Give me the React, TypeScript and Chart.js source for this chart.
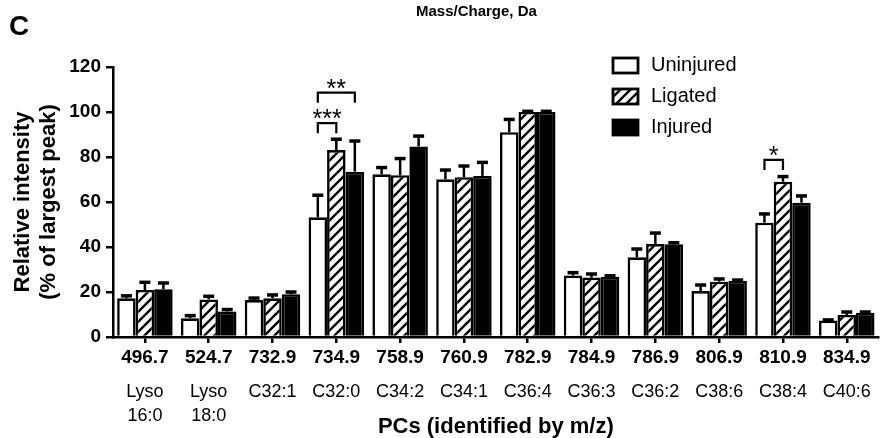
import React, { useEffect, useRef } from "react";
import { Chart, registerables } from "chart.js";

Chart.register(...registerables);

const categories = ["496.7", "524.7", "732.9", "734.9", "758.9", "760.9", "782.9", "784.9", "786.9", "806.9", "810.9", "834.9"];
const lipidNames: (string | string[])[] = [["Lyso", "16:0"], ["Lyso", "18:0"], "C32:1", "C32:0", "C34:2", "C34:1", "C36:4", "C36:3", "C36:2", "C38:6", "C38:4", "C40:6"];
const seriesNames = ["Uninjured", "Ligated", "Injured"];

const uninjured = [17.2, 8.3, 16.4, 53.2, 72.3, 70.1, 91.0, 27.3, 35.4, 20.4, 50.8, 7.3];
const uninjuredErr = [1.1, 1.2, 0.9, 9.8, 3.0, 4.1, 5.7, 1.3, 3.7, 2.7, 3.9, 0.3];
const ligated = [20.9, 16.7, 17.2, 83.1, 71.9, 71.0, 100.0, 26.4, 41.3, 24.6, 69.0, 9.8];
const ligatedErr = [3.4, 1.4, 1.5, 4.8, 7.4, 5.0, 0.3, 1.6, 4.9, 1.2, 2.3, 1.3];
const injured = [21.2, 11.3, 19.0, 73.5, 84.7, 71.6, 100.0, 26.8, 41.2, 25.0, 59.7, 10.8];
const injuredErr = [2.8, 0.9, 1.0, 13.6, 4.6, 6.0, 0.3, 0.4, 0.7, 0.3, 3.0, 0.3];

const yTicks = [0, 20, 40, 60, 80, 100, 120];

// significance brackets: category index, from series, to series, bracket level (value), label
const sigCategory = [3, 3, 10];
const sigFrom = [0, 0, 0];
const sigTo = [1, 2, 1];
const sigLevel = [95.1, 108.6, 78.7];
const sigLabel = ["***", "**", "*"];

const FONT = "'Liberation Sans', Arial, Helvetica, sans-serif";

function makeHatch(): CanvasPattern | string {
  const size = 10;
  const c = document.createElement("canvas");
  c.width = size;
  c.height = size;
  const g = c.getContext("2d");
  if (!g) return "#fff";
  g.fillStyle = "#fff";
  g.fillRect(0, 0, size, size);
  g.strokeStyle = "#000";
  g.lineWidth = 2.4;
  g.beginPath();
  g.moveTo(-2, size + 2);
  g.lineTo(size + 2, -2);
  g.moveTo(-2, 2);
  g.lineTo(2, -2);
  g.moveTo(size - 2, size + 2);
  g.lineTo(size + 2, size - 2);
  g.stroke();
  const p = g.createPattern(c, "repeat");
  return p || "#fff";
}

export default function App() {
  const ref = useRef<HTMLCanvasElement | null>(null);

  useEffect(() => {
    if (!ref.current) return;
    const hatch = makeHatch();
    const fills: any[] = ["#ffffff", hatch, "#000000"];
    const values = [uninjured, ligated, injured];
    const errors = [uninjuredErr, ligatedErr, injuredErr];

    const annotPlugin = {
      id: "annot",
      afterDatasetsDraw(chart: any) {
        const ctx = chart.ctx as CanvasRenderingContext2D;
        const y = chart.scales.y;
        ctx.save();
        ctx.strokeStyle = "#000";
        ctx.lineCap = "butt";
        // error bars (upper only)
        values.forEach((vals, di) => {
          const meta = chart.getDatasetMeta(di);
          meta.data.forEach((bar: any, i: number) => {
            const top = y.getPixelForValue(vals[i]);
            const et = y.getPixelForValue(vals[i] + errors[di][i]);
            ctx.lineWidth = 2.5;
            ctx.beginPath();
            ctx.moveTo(bar.x, top);
            ctx.lineTo(bar.x, et);
            ctx.stroke();
            ctx.lineWidth = 3.5;
            ctx.beginPath();
            ctx.moveTo(bar.x - 5.5, et);
            ctx.lineTo(bar.x + 5.5, et);
            ctx.stroke();
          });
        });
        // significance brackets
        sigCategory.forEach((ci, k) => {
          const b1 = chart.getDatasetMeta(sigFrom[k]).data[ci];
          const b2 = chart.getDatasetMeta(sigTo[k]).data[ci];
          const yy = y.getPixelForValue(sigLevel[k]);
          const legEnd = y.getPixelForValue(sigLevel[k] - 4.5);
          ctx.lineWidth = 2.2;
          ctx.beginPath();
          ctx.moveTo(b1.x, legEnd);
          ctx.lineTo(b1.x, yy);
          ctx.lineTo(b2.x, yy);
          ctx.lineTo(b2.x, legEnd);
          ctx.stroke();
          ctx.fillStyle = "#000";
          ctx.font = `25px ${FONT}`;
          ctx.textAlign = "center";
          ctx.textBaseline = "alphabetic";
          ctx.fillText(sigLabel[k], (b1.x + b2.x) / 2, yy + 4);
        });
        ctx.restore();
      },
      afterDraw(chart: any) {
        const ctx = chart.ctx as CanvasRenderingContext2D;
        ctx.save();
        // panel letter
        ctx.fillStyle = "#000";
        ctx.font = `bold 28px ${FONT}`;
        ctx.textAlign = "left";
        ctx.textBaseline = "alphabetic";
        ctx.fillText("C", 9, 35);
        // top title
        ctx.font = `bold 15px ${FONT}`;
        ctx.fillText("Mass/Charge, Da", 416, 16);
        // legend
        const boxX = 613;
        const rows = [65.5, 96.5, 127.5];
        seriesNames.forEach((name, i) => {
          const cy = rows[i];
          ctx.fillStyle = fills[i];
          ctx.fillRect(boxX, cy - 7.5, 25, 15);
          ctx.strokeStyle = "#000";
          ctx.lineWidth = 2.8;
          ctx.strokeRect(boxX, cy - 7.5, 25, 15);
          ctx.fillStyle = "#000";
          ctx.font = `20px ${FONT}`;
          ctx.textAlign = "left";
          ctx.textBaseline = "middle";
          ctx.fillText(name, 651, cy);
        });
        ctx.restore();
      },
    };

    const chart = new Chart(ref.current, {
      type: "bar",
      data: {
        labels: categories,
        datasets: seriesNames.map((name, i) => ({
          label: name,
          data: values[i],
          backgroundColor: fills[i],
          borderColor: "#000",
          borderWidth: 2.6,
          categoryPercentage: 0.87,
          barPercentage: 1.0,
        })),
      },
      options: {
        responsive: false,
        animation: false,
        devicePixelRatio: 1,
        layout: { padding: { top: 67, right: 0, bottom: 0, left: 0 } },
        plugins: { legend: { display: false }, tooltip: { enabled: false }, title: { display: false } },
        scales: {
          x: {
            type: "category",
            position: "bottom",
            weight: 0,
            offset: true,
            afterFit: (s: any) => { s.height = 30; },
            grid: { display: true, drawOnChartArea: false, drawTicks: true, tickLength: 6, offset: false, color: "#000", lineWidth: 2.5 },
            border: { display: true, color: "#000", width: 2.5 },
            ticks: { color: "#000", font: { family: FONT, size: 19, weight: "bold" }, padding: 3, maxRotation: 0, autoSkip: false },
          },
          x2: {
            type: "category",
            position: "bottom",
            axis: "x",
            weight: 1,
            offset: true,
            labels: lipidNames as any,
            afterFit: (s: any) => { s.height = 71; },
            grid: { display: false, drawTicks: false, drawOnChartArea: false },
            border: { display: false },
            ticks: { color: "#000", font: { family: FONT, size: 18, lineHeight: 1.33 }, padding: 13, maxRotation: 0, autoSkip: false },
            title: { display: true, text: "PCs (identified by m/z)", color: "#000", font: { family: FONT, size: 22, weight: "bold", lineHeight: 1 }, padding: { top: 0, bottom: 0 } },
          },
          y: {
            type: "linear",
            min: 0,
            max: 120,
            afterFit: (s: any) => { s.width = 113; },
            afterBuildTicks: (s: any) => { s.ticks = yTicks.map((v) => ({ value: v })); },
            grid: { display: true, drawOnChartArea: false, drawTicks: true, tickLength: 7, color: "#000", lineWidth: 2.5 },
            border: { display: true, color: "#000", width: 2.5 },
            ticks: { color: "#000", font: { family: FONT, size: 19, weight: "bold" }, padding: 5 },
            title: { display: true, text: ["Relative intensity", "(% of largest peak)"], color: "#000", font: { family: FONT, size: 22, weight: "bold", lineHeight: 1.18 }, padding: { top: 10, bottom: 0 } },
          },
        },
      },
      plugins: [annotPlugin],
    } as any);

    return () => chart.destroy();
  }, []);

  return (
    <div style={{ position: "fixed", left: 0, top: 0, width: 884, height: 438, background: "#fff" }}>
      <canvas ref={ref} width={884} height={438} style={{ display: "block", width: 884, height: 438 }} />
    </div>
  );
}
